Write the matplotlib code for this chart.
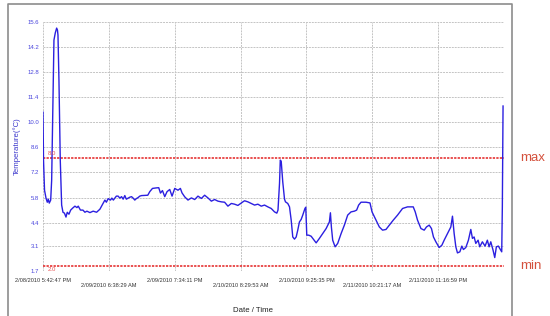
import numpy as np
import matplotlib
matplotlib.use('Agg')
import matplotlib.pyplot as plt
from matplotlib.lines import Line2D

plt.rcParams['font.family'] = ['Liberation Sans', 'DejaVu Sans']

# hours since 2/08/2010 5:42:47 PM, temperature in C
hours = [0.0, 0.1, 0.3, 0.59, 0.84, 1.04, 1.23, 1.51, 1.70, 1.90, 2.15, 2.41, 2.68, 2.84, 2.94,
         3.13, 3.39, 3.66, 3.92, 4.21, 4.51, 4.76, 5.09, 5.43, 5.82, 6.27, 6.66, 6.92, 7.35, 7.84,
         8.23, 8.62, 9.21, 9.85, 10.52, 10.87, 11.17, 11.50, 11.85, 12.15, 12.44, 12.79, 13.26,
         13.52, 13.81, 14.10, 14.40, 14.75, 15.08, 15.42, 15.73, 16.06, 16.36, 16.71, 17.04,
         17.38, 17.69, 18.02, 18.32, 18.67, 19.00, 19.34, 20.18, 20.57, 20.96, 21.49, 22.27,
         22.72, 23.06, 23.45, 23.90, 24.35, 24.88, 25.33, 25.86, 26.50, 26.97, 27.29, 27.82,
         28.46, 29.13, 29.78, 30.42, 31.09, 31.73, 32.38, 33.05, 33.69, 34.34, 35.01, 35.65,
         36.30, 36.97, 37.61, 38.26, 38.93, 39.24, 39.57, 40.22, 40.88, 41.53, 42.18, 42.84,
         43.49, 44.14, 44.80, 45.45, 45.90, 46.13, 46.43, 46.58, 46.76, 47.07, 47.41, 47.60,
         48.05, 48.39, 48.72, 49.03, 49.37, 49.70, 50.01, 50.34, 50.68, 50.99, 51.42, 51.58,
         51.78, 52.17, 52.64, 52.95, 53.62, 54.26, 54.91, 55.58, 56.22, 56.42, 56.61, 56.87,
         57.34, 57.85, 58.52, 59.16, 59.81, 60.47, 61.12, 61.57, 61.96, 62.43, 63.41, 64.19,
         64.59, 65.23, 66.02, 66.66, 67.33, 67.98, 68.76, 69.60, 70.58, 71.56, 72.68, 73.07,
         73.52, 74.19, 74.83, 75.28, 75.81, 76.26, 76.65, 77.12, 77.77, 78.30, 78.75, 79.40,
         80.06, 80.38, 80.71, 81.04, 81.36, 81.83, 82.22, 82.53, 83.00, 83.51, 83.98, 84.30,
         84.63, 84.96, 85.41, 85.74, 86.25, 86.78, 87.23, 87.57, 87.90, 88.35, 88.68, 89.00,
         89.39, 89.86, 90.05, 90.17, 90.31]
temps = [10.57, 7.89, 6.21, 5.77, 5.54, 5.71, 5.49, 5.66, 6.77, 10.12, 14.59, 14.99, 15.26, 15.15,
         14.87, 12.36, 7.89, 5.38, 4.98, 4.93, 4.71, 4.98, 4.87, 5.10, 5.21, 5.32, 5.24, 5.32,
         5.10, 5.10, 4.98, 5.04, 4.96, 5.04, 4.98, 5.07, 5.15, 5.32, 5.49, 5.66, 5.54, 5.74,
         5.66, 5.77, 5.66, 5.77, 5.88, 5.88, 5.77, 5.85, 5.71, 5.91, 5.71, 5.77, 5.82, 5.85,
         5.77, 5.66, 5.74, 5.80, 5.88, 5.91, 5.92, 5.93, 6.13, 6.31, 6.34, 6.35, 6.05, 6.19,
         5.85, 6.13, 6.25, 5.88, 6.31, 6.21, 6.31, 6.06, 5.84, 5.66, 5.78, 5.69, 5.88, 5.75,
         5.93, 5.78, 5.60, 5.69, 5.60, 5.56, 5.54, 5.32, 5.47, 5.43, 5.36, 5.50, 5.56, 5.62,
         5.56, 5.47, 5.38, 5.43, 5.32, 5.38, 5.28, 5.19, 5.00, 4.93, 5.10, 6.60, 7.89, 7.83,
         6.66, 5.71, 5.56, 5.47, 5.28, 4.54, 3.60, 3.48, 3.60, 3.98, 4.44, 4.58, 4.82, 5.19,
         5.26, 3.70, 3.70, 3.64, 3.52, 3.27, 3.52, 3.79, 4.07, 4.44, 4.95, 4.16, 3.42, 3.05,
         3.24, 3.79, 4.26, 4.82, 5.00, 5.04, 5.10, 5.38, 5.54, 5.54, 5.50, 5.00, 4.63, 4.16,
         3.98, 4.02, 4.26, 4.54, 4.82, 5.19, 5.28, 5.28, 5.00, 4.54, 4.07, 3.98, 4.16, 4.26,
         4.07, 3.60, 3.33, 3.01, 3.14, 3.42, 3.79, 4.16, 4.76, 3.79, 3.05, 2.71, 2.77, 3.09,
         2.90, 3.01, 3.42, 4.02, 3.52, 3.60, 3.24, 3.42, 3.05, 3.33, 3.09, 3.42, 3.05, 3.33,
         2.86, 2.45, 3.05, 3.09, 2.86, 2.77, 5.28, 10.91]

step_h = 12.928  # 12:55:42 between date labels
date_labels = ['2/08/2010 5:42:47 PM', '2/09/2010 6:38:29 AM', '2/09/2010 7:34:11 PM',
               '2/10/2010 8:29:53 AM', '2/10/2010 9:25:35 PM', '2/11/2010 10:21:17 AM',
               '2/11/2010 11:16:59 PM']
y_ticks = [1.7, 3.1, 4.4, 5.8, 7.2, 8.6, 10.0, 11.4, 12.8, 14.2, 15.6]
t_max = 8.0
t_min = 2.0

fig = plt.figure(figsize=(5.5, 3.16), dpi=100)
ax = fig.add_axes([43/550, 1-271/316, 461/550, 249/316])

ax.plot(hours, temps, color='#2b1fe0', lw=1.0, zorder=3)
ax.axhline(t_max, color='#e32020', lw=1.1, ls=(0, (1.5, 0.8)), zorder=2)
ax.axhline(t_min, color='#e32020', lw=1.1, ls=(0, (1.5, 0.8)), zorder=2)
ax.text(1.0, t_max + 0.12, '8.0', color='#e85050', fontsize=4.3, va='bottom', ha='left')
ax.text(1.0, t_min - 0.05, '2.0', color='#e85050', fontsize=4.3, va='top', ha='left')

ax.set_xlim(0, 7 * step_h)
ax.set_ylim(y_ticks[0], y_ticks[-1])

ax.set_yticks(y_ticks)
ax.set_yticklabels(['%.1f' % v for v in y_ticks])
ax.tick_params(axis='y', length=0, pad=3, labelsize=4.3, labelcolor='#4a46dd')

# alternating label rows: even ones on major ticks, odd ones on minor ticks
ax.set_xticks([k * step_h for k in range(0, 7, 2)])
ax.set_xticklabels(date_labels[0::2])
ax.set_xticks([k * step_h for k in [1, 3, 5, 7]], minor=True)
ax.set_xticklabels(date_labels[1::2] + [''], minor=True)
ax.tick_params(axis='x', which='major', length=0, pad=5.0, labelsize=4.1, labelcolor='#333333')
ax.tick_params(axis='x', which='minor', length=0, pad=8.6, labelsize=4.1, labelcolor='#333333')

ax.grid(True, which='both', color='#c4c4c4', lw=0.7, ls=(0, (2, 1)))
ax.set_axisbelow(True)
for s in ax.spines.values():
    s.set_visible(False)

fig.text(253/550, 1-310/316, 'Date / Time', fontsize=5.6, color='#222222', ha='center', va='center')
fig.text(17/550, 1-146/316, 'Temperature(\u00b0C)', fontsize=5.6, color='#3a36cc',
         rotation=90, ha='center', va='center')
fig.text(520/550, 1-158/316, 'max', fontsize=9.5, color='#d4503c', ha='left', va='center')
fig.text(520/550, 1-266/316, 'min', fontsize=9.5, color='#d4503c', ha='left', va='center')

# outer frame
fig.add_artist(Line2D([8/550, 8/550, 512/550, 512/550], [0, 1-4/316, 1-4/316, 0],
                      transform=fig.transFigure, color='#8c8c8c', lw=1.2))

fig.savefig('out.png', dpi=100)
